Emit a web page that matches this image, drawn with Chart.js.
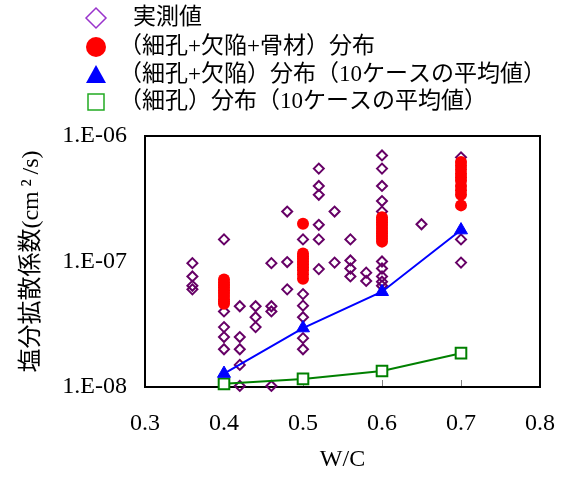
<!DOCTYPE html>
<html>
<head>
<meta charset="utf-8">
<script src="https://cdn.jsdelivr.net/npm/chart.js@4/dist/chart.umd.min.js"></script>
<style>
  html, body { margin: 0; padding: 0; background: #fff; }
  canvas { display: block; }
</style>
</head>
<body>
<canvas id="chart" width="564" height="477"></canvas>
<script>
// Chloride diffusion coefficient (cm²/s) against water-cement ratio W/C

// Measured values
const measuredWC = [
  0.36, 0.36, 0.36, 0.36,
  0.40, 0.40, 0.40, 0.40, 0.40,
  0.42, 0.42, 0.42, 0.42, 0.42,
  0.44, 0.44, 0.44,
  0.46, 0.46, 0.46, 0.46,
  0.48, 0.48, 0.48,
  0.50, 0.50, 0.50, 0.50, 0.50, 0.50,
  0.52, 0.52, 0.52, 0.52, 0.52, 0.52,
  0.54, 0.54,
  0.56, 0.56, 0.56, 0.56,
  0.58, 0.58,
  0.60, 0.60, 0.60, 0.60, 0.60, 0.60, 0.60, 0.60, 0.60, 0.60,
  0.65,
  0.70, 0.70, 0.70
];
const measuredD = [
  9.7e-8, 7.6e-8, 6.4e-8, 6.0e-8,
  1.5e-7, 4.0e-8, 3.0e-8, 2.5e-8, 2.0e-8,
  4.4e-8, 2.5e-8, 2.0e-8, 1.5e-8, 1.02e-8,
  4.4e-8, 3.6e-8, 3.0e-8,
  9.7e-8, 4.4e-8, 4.0e-8, 1.02e-8,
  2.5e-7, 9.9e-8, 6.0e-8,
  1.5e-7, 5.5e-8, 4.45e-8, 3.6e-8, 2.45e-8, 2.0e-8,
  5.5e-7, 4.0e-7, 3.4e-7, 1.96e-7, 1.5e-7, 8.7e-8,
  2.5e-7, 9.8e-8,
  1.5e-7, 1.02e-7, 8.8e-8, 7.6e-8,
  8.15e-8, 7.0e-8,
  7.0e-7, 5.5e-7, 4.0e-7, 3.03e-7, 2.5e-7, 1.0e-7, 8.8e-8, 7.6e-8, 6.9e-8, 6.4e-8,
  1.98e-7,
  6.76e-7, 1.5e-7, 9.8e-8
];

// Pore + defect + aggregate distribution (10 cases per W/C)
const fullWC = [
  0.4, 0.4, 0.4, 0.4, 0.4, 0.4, 0.4, 0.4, 0.4, 0.4,
  0.5, 0.5, 0.5, 0.5, 0.5, 0.5, 0.5, 0.5, 0.5, 0.5,
  0.6, 0.6, 0.6, 0.6, 0.6, 0.6, 0.6, 0.6, 0.6, 0.6,
  0.7, 0.7, 0.7, 0.7, 0.7, 0.7, 0.7, 0.7, 0.7, 0.7
];
const fullD = [
  7.2e-8, 6.8e-8, 6.5e-8, 6.2e-8, 5.9e-8, 5.6e-8, 5.3e-8, 5.0e-8, 4.8e-8, 4.6e-8,
  2.0e-7, 1.16e-7, 1.10e-7, 1.05e-7, 1.0e-7, 9.5e-8, 9.0e-8, 8.5e-8, 7.9e-8, 7.3e-8,
  2.25e-7, 2.15e-7, 2.05e-7, 1.95e-7, 1.85e-7, 1.75e-7, 1.68e-7, 1.6e-7, 1.52e-7, 1.44e-7,
  6.2e-7, 5.8e-7, 5.4e-7, 5.0e-7, 4.7e-7, 4.4e-7, 4.0e-7, 3.7e-7, 3.4e-7, 2.8e-7
];

// Pore + defect distribution, mean of 10 cases
const poreDefectWC = [0.4, 0.5, 0.6, 0.7];
const poreDefectD = [1.28e-8, 2.95e-8, 5.74e-8, 1.78e-7];

// Pore distribution only, mean of 10 cases
const poreWC = [0.4, 0.5, 0.6, 0.7];
const poreD = [1.06e-8, 1.16e-8, 1.34e-8, 1.86e-8];

// Axis ticks
const xTickValues = [0.3, 0.4, 0.5, 0.6, 0.7, 0.8];
const xTickLabels = ['0.3', '0.4', '0.5', '0.6', '0.7', '0.8'];
const yTickValues = [1e-8, 1e-7, 1e-6];
const yTickLabels = ['1.E-08', '1.E-07', '1.E-06'];

const legendLabels = [
  '実測値',
  '（細孔+欠陥+骨材）分布',
  '（細孔+欠陥）分布（10ケースの平均値）',
  '（細孔）分布（10ケースの平均値）'
];

const FONT = '"Liberation Serif", "Noto Sans CJK JP", serif';
const toPoints = (xs, ys) => xs.map((x, i) => ({ x, y: ys[i] }));

// Frame around the plot area and short inward tick marks on the W/C axis
const framePlugin = {
  id: 'frame',
  beforeDatasetsDraw(chart) {
    const { ctx, chartArea: a, scales } = chart;
    ctx.save();
    ctx.strokeStyle = '#808080';
    ctx.lineWidth = 1;
    xTickValues.slice(1, -1).forEach(v => {
      const px = Math.round(scales.x.getPixelForValue(v)) + 0.5;
      ctx.beginPath();
      ctx.moveTo(px, a.bottom);
      ctx.lineTo(px, a.bottom - 7);
      ctx.stroke();
    });
    ctx.strokeStyle = '#000';
    ctx.lineWidth = 2;
    ctx.strokeRect(a.left, a.top, a.right - a.left, a.bottom - a.top);
    ctx.restore();
  }
};

// Stacked legend at the top left
const legendPlugin = {
  id: 'stackedLegend',
  afterDraw(chart) {
    const ctx = chart.ctx;
    const rows = [18, 47, 75, 102];
    const textX = [133, 119, 119, 119];
    const ix = 96;
    ctx.save();
    // diamond
    ctx.lineWidth = 1.5;
    ctx.strokeStyle = '#9933CC';
    ctx.beginPath();
    ctx.moveTo(ix - 10, rows[0]); ctx.lineTo(ix, rows[0] - 10);
    ctx.lineTo(ix + 10, rows[0]); ctx.lineTo(ix, rows[0] + 10);
    ctx.closePath(); ctx.stroke();
    // circle
    ctx.fillStyle = '#FF0000';
    ctx.beginPath(); ctx.arc(ix, rows[1], 10, 0, Math.PI * 2); ctx.fill();
    // triangle
    ctx.fillStyle = '#0000FF';
    ctx.beginPath();
    ctx.moveTo(ix, rows[2] - 10); ctx.lineTo(ix + 10, rows[2] + 8); ctx.lineTo(ix - 10, rows[2] + 8);
    ctx.closePath(); ctx.fill();
    // square
    ctx.strokeStyle = '#22AA22';
    ctx.lineWidth = 1.5;
    ctx.strokeRect(ix - 8, rows[3] - 8, 16, 16);
    // labels
    ctx.fillStyle = '#000';
    ctx.font = '23px ' + FONT;
    ctx.textBaseline = 'middle';
    ctx.textAlign = 'left';
    legendLabels.forEach((t, i) => ctx.fillText(t, textX[i], rows[i]));
    ctx.restore();
  }
};

new Chart(document.getElementById('chart'), {
  type: 'scatter',
  data: {
    datasets: [
      {
        label: legendLabels[2],
        data: toPoints(poreDefectWC, poreDefectD),
        showLine: true,
        borderColor: '#0000FF',
        borderWidth: 2,
        pointStyle: 'triangle',
        pointRadius: 7.5,
        pointBackgroundColor: '#0000FF',
        pointBorderColor: '#0000FF',
        pointBorderWidth: 1,
        clip: false,
        order: 0
      },
      {
        label: legendLabels[3],
        data: toPoints(poreWC, poreD),
        showLine: true,
        borderColor: '#008000',
        borderWidth: 2,
        pointStyle: 'rect',
        pointRadius: 7.5,
        pointBackgroundColor: '#FFFFFF',
        pointBorderColor: '#008000',
        pointBorderWidth: 2,
        clip: false,
        order: 1
      },
      {
        label: legendLabels[1],
        data: toPoints(fullWC, fullD),
        showLine: false,
        pointStyle: 'circle',
        pointRadius: 6,
        pointBackgroundColor: '#FF0000',
        pointBorderColor: '#FF0000',
        pointBorderWidth: 0,
        clip: false,
        order: 2
      },
      {
        label: legendLabels[0],
        data: toPoints(measuredWC, measuredD),
        showLine: false,
        pointStyle: 'rectRot',
        pointRadius: 5,
        pointBackgroundColor: 'rgba(0,0,0,0)',
        pointBorderColor: '#660066',
        pointBorderWidth: 2,
        clip: false,
        order: 3
      }
    ]
  },
  options: {
    responsive: false,
    animation: false,
    events: [],
    layout: { padding: { left: 0, right: 24, top: 136, bottom: 0 } },
    plugins: {
      legend: { display: false },
      tooltip: { enabled: false }
    },
    scales: {
      x: {
        type: 'linear',
        min: 0.3,
        max: 0.8,
        afterBuildTicks: s => { s.ticks = xTickValues.map(v => ({ value: v })); },
        afterFit: s => { s.height = 90; s.paddingLeft = 0; s.paddingRight = 0; },
        grid: { display: false, drawTicks: false },
        border: { display: false },
        ticks: {
          callback: (v, i) => xTickLabels[i],
          font: { family: FONT, size: 24 },
          color: '#000',
          padding: 22,
          maxRotation: 0,
          autoSkip: false
        },
        title: {
          display: true,
          text: 'W/C',
          font: { family: FONT, size: 24 },
          color: '#000',
          padding: { top: 0, bottom: 3 }
        }
      },
      y: {
        type: 'logarithmic',
        min: 1e-8,
        max: 1e-6,
        afterBuildTicks: s => { s.ticks = yTickValues.map(v => ({ value: v })); },
        afterFit: s => { s.width = 145; },
        grid: { display: false, drawTicks: false },
        border: { display: false },
        ticks: {
          callback: (v, i) => yTickLabels[i],
          font: { family: FONT, size: 24 },
          color: '#000',
          padding: 18,
          autoSkip: false
        },
        title: {
          display: true,
          text: '塩分拡散係数(cm\u2009²\u2009/s)',
          font: { family: FONT, size: 24 },
          color: '#000',
          padding: { top: 17, bottom: 0 }
        }
      }
    }
  },
  plugins: [framePlugin, legendPlugin]
});
</script>
</body>
</html>
